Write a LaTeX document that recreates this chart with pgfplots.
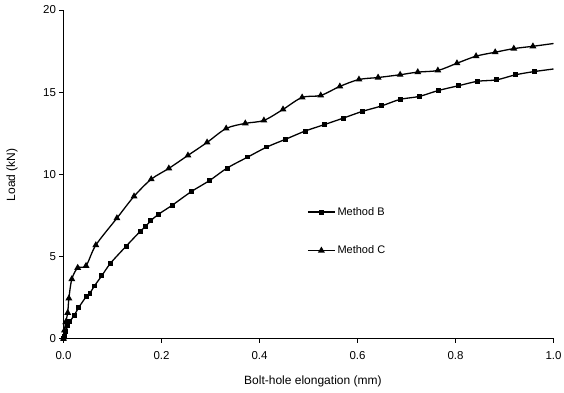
\documentclass[border=0pt]{standalone}
\usepackage{pgfplots}
\pgfplotsset{compat=1.18}
\usepackage{fontspec}
\setmainfont{Liberation Sans}

% Load-elongation data for the two methods
\pgfplotstableread{
x      y
0.0000 0.00
0.0016 0.12
0.0045 0.42
0.0086 0.77
0.0130 1.04
0.0220 1.42
0.0310 1.89
0.0470 2.58
0.0540 2.77
0.0630 3.20
0.0780 3.82
0.0960 4.59
0.1280 5.63
0.1570 6.54
0.1670 6.81
0.1780 7.17
0.1940 7.57
0.2220 8.12
0.2610 8.95
0.2980 9.62
0.3340 10.38
0.3760 11.05
0.4150 11.66
0.4530 12.13
0.4930 12.63
0.5320 13.02
0.5710 13.42
0.6100 13.83
0.6490 14.16
0.6870 14.56
0.7260 14.74
0.7650 15.10
0.8060 15.39
0.8450 15.66
0.8840 15.75
0.9230 16.06
0.9620 16.26
}\methodB

\pgfplotstableread{
x      y
0.0000 0.00
0.0020 0.50
0.0045 1.00
0.0086 1.57
0.0110 2.45
0.0170 3.62
0.0290 4.31
0.0460 4.43
0.0660 5.69
0.1090 7.33
0.1440 8.66
0.1790 9.70
0.2150 10.36
0.2540 11.15
0.2930 11.94
0.3320 12.79
0.3710 13.10
0.4090 13.28
0.4480 13.95
0.4870 14.68
0.5250 14.80
0.5640 15.35
0.6030 15.77
0.6420 15.89
0.6870 16.06
0.7230 16.22
0.7640 16.32
0.8030 16.76
0.8420 17.19
0.8810 17.43
0.9190 17.65
0.9580 17.79
}\methodC

\begin{document}
\begin{tikzpicture}
\useasboundingbox (0,0) rectangle (564bp,393bp);
\begin{axis}[
  at={(63.5bp,54.4bp)}, anchor=south west,
  scale only axis, width=490bp, height=328.6bp,
  xmin=0, xmax=1, ymin=0, ymax=20,
  axis x line*=bottom, axis y line*=left,
  axis line style={black, line width=0.8bp, -},
  xtick={0,0.2,...,1.0}, ytick={0,5,...,20},
  tick align=outside, major tick length=4bp,
  tick style={black, line width=0.8bp},
  /pgf/number format/assume math mode=true,
  xticklabel style={/pgf/number format/fixed, /pgf/number format/fixed zerofill,
    /pgf/number format/precision=1, yshift=-5bp},
  ticklabel style={font=\fontsize{11.5bp}{13bp}\selectfont},
  label style={font=\fontsize{12bp}{14bp}\selectfont},
  xlabel={Bolt-hole elongation (mm)},
  ylabel={Load (kN)},
  xlabel style={at={(axis description cs:0.509,-0.13)}, anchor=center},
  ylabel style={at={(axis description cs:-0.105,0.498)}, anchor=center, rotate=0},
  legend style={draw=none, fill=none, at={(axis cs:0.497,6.53)}, anchor=west,
    font=\fontsize{11bp}{13bp}\selectfont, row sep=25bp, inner sep=0pt,
    nodes={inner sep=2bp}},
  legend cell align=left,
  legend image code/.code={\draw[mark repeat=2,mark phase=2] plot coordinates {(0bp,0bp) (13.5bp,0bp) (27bp,0bp)};},
]
\addplot[black, line width=1.3bp, smooth, mark=square*, mark size=1.8bp, mark options={solid, fill=black}]
  table[x=x, y=y] {\methodB};
\addlegendentry{Method B}
\addplot[black, line width=1.3bp, smooth, mark=triangle*, mark size=2.7bp, mark options={solid, fill=black}]
  table[x=x, y=y] {\methodC};
\addlegendentry{Method C}
% line tails past the last measured marks
\addplot[black, line width=1.3bp, forget plot] coordinates {(0.962,16.26) (1.0,16.41)};
\addplot[black, line width=1.3bp, forget plot] coordinates {(0.958,17.79) (1.0,17.96)};
\end{axis}
\end{tikzpicture}
\end{document}
